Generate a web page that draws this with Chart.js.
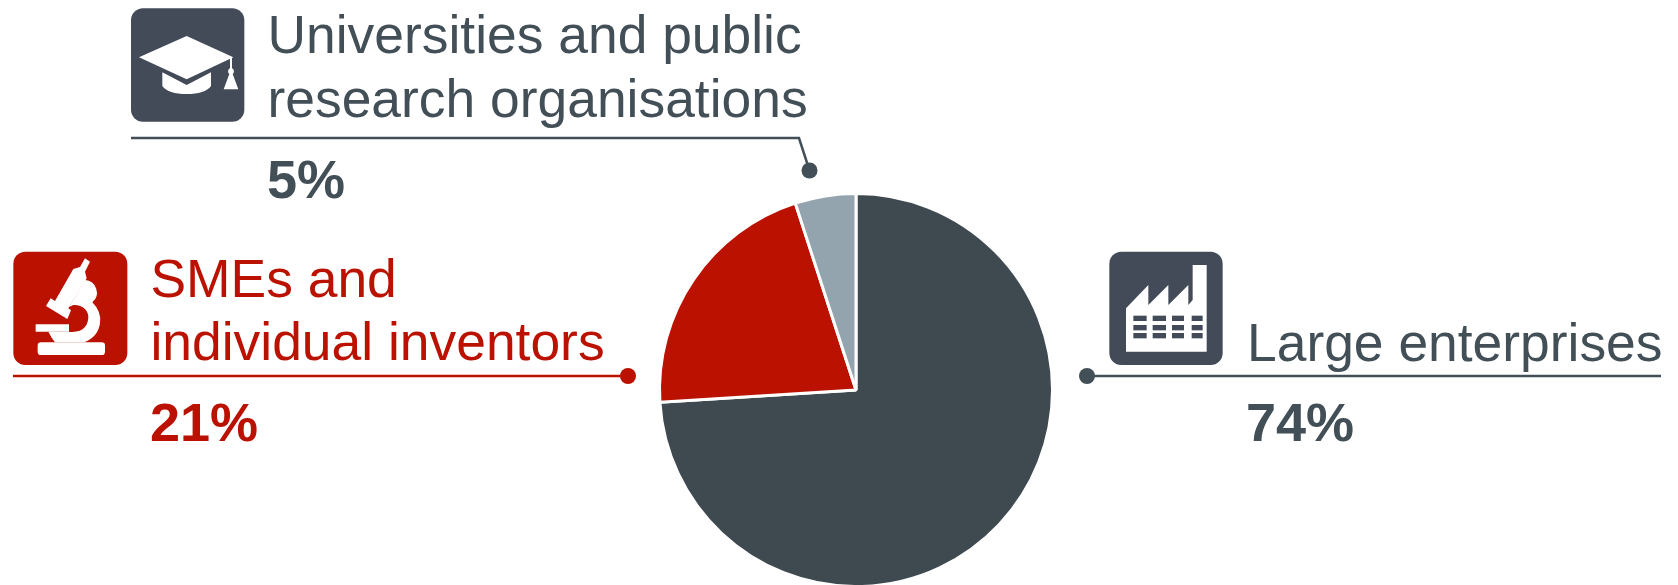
<!DOCTYPE html>
<html>
<head>
<meta charset="utf-8">
<style>
  html, body { margin: 0; padding: 0; background: #fff; }
  canvas { display: block; }
</style>
<script src="https://cdn.jsdelivr.net/npm/chart.js@4/dist/chart.umd.min.js"></script>
</head>
<body>
<canvas id="myChart" width="1678" height="585"></canvas>
<script>
'use strict';

const categories = ['Large enterprises', 'SMEs and individual inventors', 'Universities and public research organisations'];
const shares = [74, 21, 5];
const sliceColors = ['#3e4950', '#bb1100', '#93a4ae'];

const FONT = '"Liberation Sans", Arial, sans-serif';
const SLATE = '#434f57';
const ICON_SLATE = '#434b59';
const RED = '#bb1100';

// callouts round the pie, icon paths are in 3x units of a 130px box
const callouts = [
  {
    index: 2, color: SLATE, box: ICON_SLATE,
    lines: ['Universities and public', 'research organisations'],
    textX: 267.5, textY: [53, 117], pctX: 267, pctY: 198,
    leader: [[131, 138], [799, 138], [809.5, 170.5]],
    icon: { x: 125, y: 0, rect: [18, 25, 340, 340],
      white: ['M42 172 L185 108 L325 172 L185 238 Z',
        'M112 217 L185 255 L258 217 L258 258 Q240 282 185 282 Q130 282 112 258 Z',
        'M315 172 L321 172 L321 205 A10 10 0 0 1 323 222 L340 268 L296 268 L313 222 A10 10 0 0 1 315 205 Z'] }
  },
  {
    index: 1, color: RED, box: RED,
    lines: ['SMEs and', 'individual inventors'],
    textX: 150.5, textY: [297, 360], pctX: 150, pctY: 441,
    leader: [[13, 376], [628, 376]],
    icon: { x: 5, y: 245, rect: [25, 20, 342, 340],
      white: ['M123 183 L137 160 L150 168 L205 72 L225 66 L240 40 L255 50 L240 80 L245 100 L190 190 L198 196 L187 222 Z',
        'M240 105 A38 38 0 0 1 262 172 Q290 200 285 235 Q280 275 238 292 L150 292 Q140 280 130 260 L190 260 C235 265 250 240 250 215 C250 195 230 178 205 180 L192 186 Z',
        'M108 292 L290 292 A10 10 0 0 1 300 302 L300 320 A10 10 0 0 1 290 330 L108 330 A10 10 0 0 1 98 320 L98 302 A10 10 0 0 1 108 292 Z',
        'M92 238 L192 238 L192 260 L92 260 Z'] }
  },
  {
    index: 0, color: SLATE, box: ICON_SLATE,
    lines: ['Large enterprises'],
    textX: 1247, textY: [361], pctX: 1246, pctY: 441,
    leader: [[1661, 376], [1087, 376]],
    icon: { x: 1100, y: 245, rect: [28, 20, 340, 340],
      white: ['M78 320 L78 190 L145 120 L145 180 L205 120 L205 180 L265 120 L265 180 L278 165 L278 60 L320 60 L320 320 Z'],
      holes: [[100, 158, 216, 275], [40, 40, 36, 33], [212, 240, 264]] }
  }
];

function drawIcon(c, icon, boxColor) {
  c.save();
  c.translate(icon.x, icon.y);
  c.scale(1 / 3, 1 / 3);
  c.fillStyle = boxColor;
  c.beginPath();
  c.roundRect(icon.rect[0], icon.rect[1], icon.rect[2], icon.rect[3], 36);
  c.fill();
  c.fillStyle = '#fff';
  icon.white.forEach(d => c.fill(new Path2D(d)));
  if (icon.holes) {
    c.fillStyle = boxColor;
    icon.holes[0].forEach((x, i) => {
      icon.holes[2].forEach(y => c.fillRect(x, y, icon.holes[1][i], 16));
    });
  }
  c.restore();
}

const calloutPlugin = {
  id: 'callouts',
  afterDraw(chart) {
    const c = chart.ctx;
    callouts.forEach(item => {
      drawIcon(c, item.icon, item.box);

      c.strokeStyle = item.color;
      c.fillStyle = item.color;
      c.lineWidth = 2.5;
      c.beginPath();
      item.leader.forEach((p, i) => i ? c.lineTo(p[0], p[1]) : c.moveTo(p[0], p[1]));
      c.stroke();
      const end = item.leader[item.leader.length - 1];
      c.beginPath();
      c.arc(end[0], end[1], 8, 0, Math.PI * 2);
      c.fill();

      c.textAlign = 'left';
      c.textBaseline = 'alphabetic';
      c.font = '53.4px ' + FONT;
      item.lines.forEach((line, i) => c.fillText(line, item.textX, item.textY[i]));
      c.font = 'bold 54px ' + FONT;
      c.fillText(shares[item.index] + '%', item.pctX, item.pctY);
    });
  }
};

new Chart(document.getElementById('myChart'), {
  type: 'pie',
  data: {
    labels: categories,
    datasets: [{
      data: shares,
      backgroundColor: sliceColors,
      borderColor: '#fff',
      borderWidth: 3
    }]
  },
  options: {
    responsive: false,
    animation: false,
    radius: 196.5,
    layout: { padding: { left: 661, right: 627, top: 195, bottom: 0 } },
    plugins: { legend: { display: false }, tooltip: { enabled: false } }
  },
  plugins: [calloutPlugin]
});
</script>
</body>
</html>
